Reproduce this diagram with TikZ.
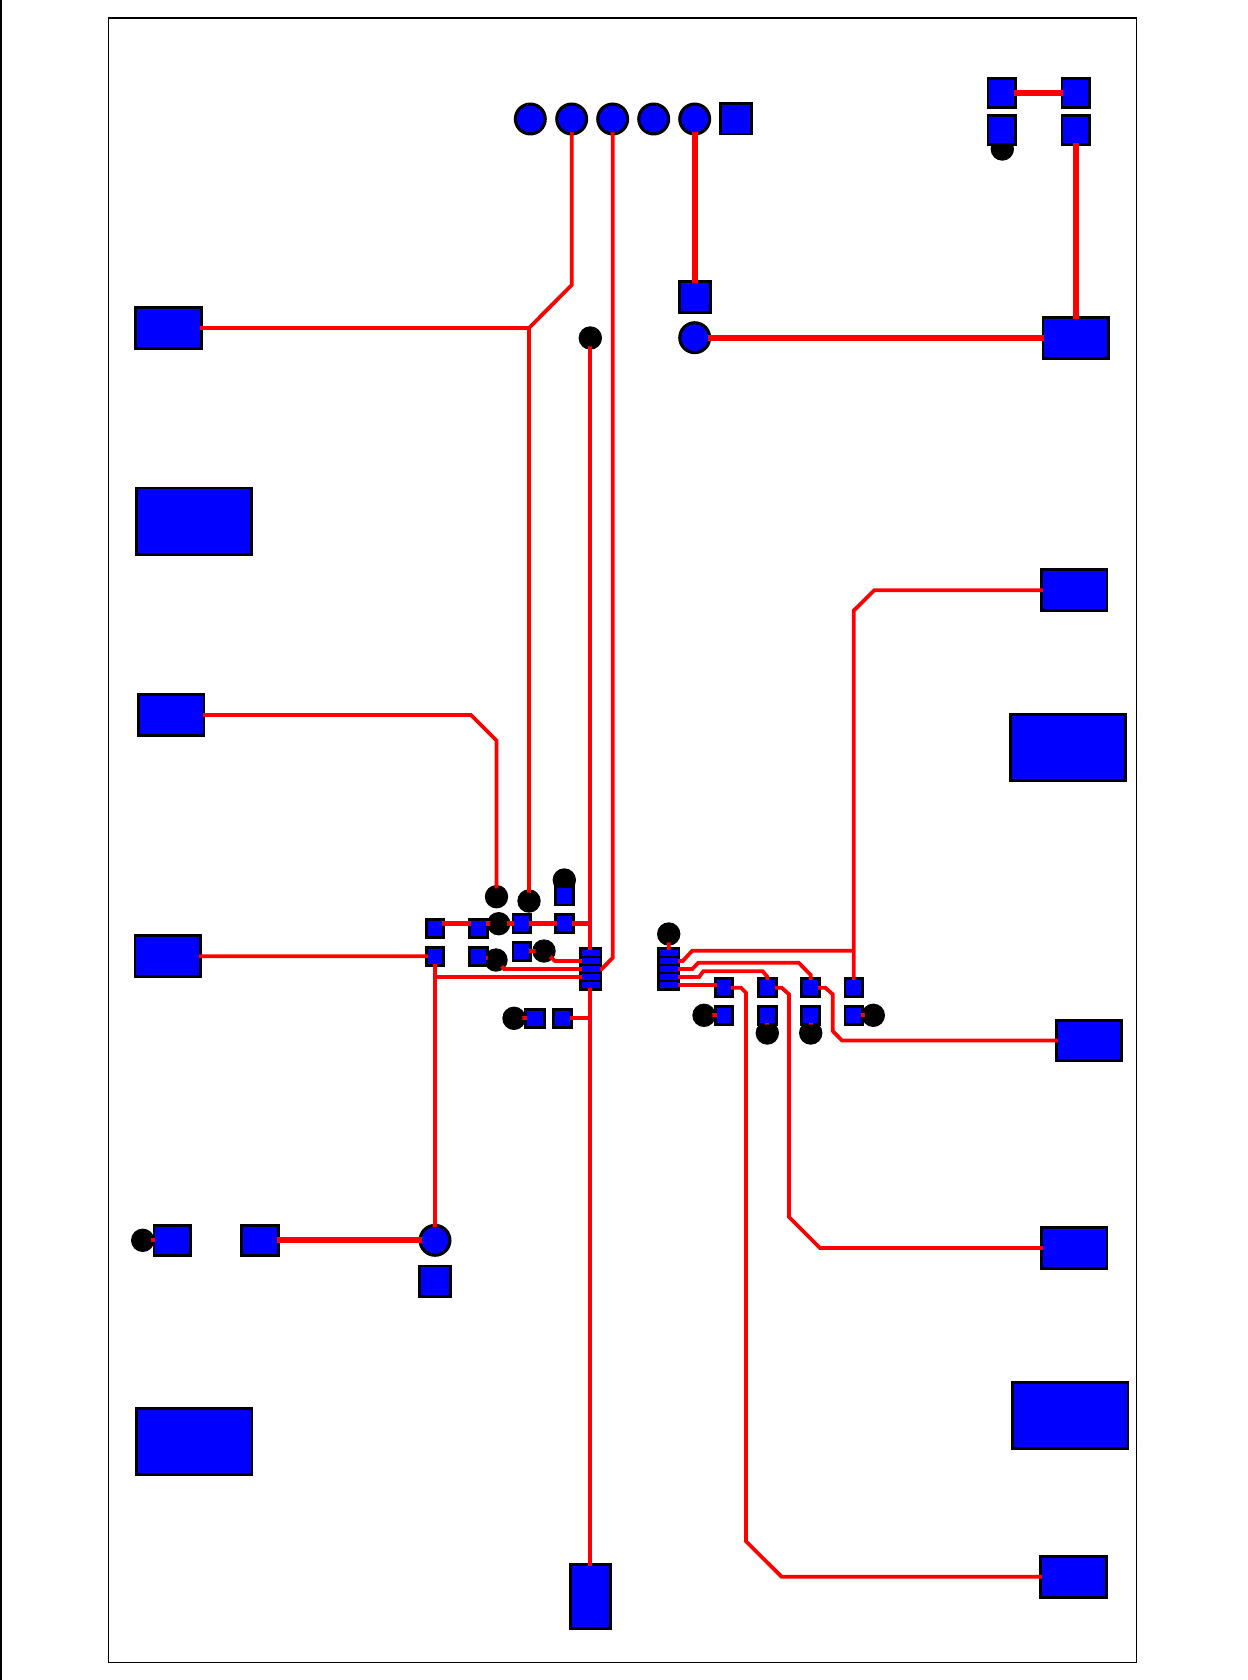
\documentclass[tikz,border=0pt]{standalone}
\usepackage{tikz}
\usepackage{xcolor}
\tikzset{
    pad-base/.style = {rectangle, fill=black, inner sep=0pt, outer sep=0pt},
    pad-top/.style = {rectangle, fill=blue, inner sep=0pt, outer sep=0pt},
    ring-base/.style = {circle, fill=black, inner sep=0pt, outer sep=0pt, minimum size=33pt},
    ring-top/.style = {circle, fill=blue, inner sep=0pt, outer sep=0pt, minimum size=26.6pt},
    via-base/.style = {circle, fill=black, inner sep=0pt, outer sep=0pt, minimum size=23.4pt},
    via-top/.style = {circle, fill=black, inner sep=0pt, outer sep=0pt, minimum size=17pt},
    trace-thin/.style = {draw=red, line width=3.8pt},
    trace-thick/.style = {draw=red, line width=5.8pt},
    board-edge/.style = {draw=black, line width=1.6pt},
}
\newcommand\padlist{%
    sq-hdr/736/118.7/33.6/33.6, sq-top/694.7/296.7/33.6/33.6,
    sw-tl/1001.7/93/30.4/31.6, sw-tr/1075.7/93/30.4/31.6,
    sw-bl/1001.7/130/30.4/31.6, sw-br/1075.7/130/30.4/31.6,
    pwr/1075.8/337.7/68.6/43.6,
    in-a/168.8/328/69/43.6, in-b/171/715/68.8/43.6, in-c/167.8/956.2/68.6/43.8,
    big-a/193.7/521/118.2/69, big-b/194.3/1441.3/118.2/68.4,
    big-c/1067.8/747.3/118.2/68.4, big-d/1070.3/1415.3/118.2/68.4,
    led-a/172.3/1240.3/39.6/33, led-b/259.7/1240.3/39.6/33,
    sq-low/435/1281.3/33.6/33.6,
    out-a/1074/590.2/68.8/43.8, out-b/1089/1040.5/68.4/43.6,
    out-c/1074/1248/68.8/43.6, out-d/1073.8/1576.8/69/43.8,
    bot/590.3/1596.4/43.2/66.6,
    a1/435/928.7/20.4/21, a2/435/956.3/20.4/21,
    b1/478.3/928.7/20.4/21, b2/478.3/956.3/20.4/21,
    c1/521.8/923.5/20.6/21.2, c2/521.8/951.2/20.6/21.2,
    d0/564.5/895.8/20.6/21.2, d1/564.5/923.5/20.6/21.2,
    e1/535.2/1018.3/21.9/20.4, e2/562.7/1018.3/20.9/20.4,
    f1/724/987.7/20.4/21, f2/767.3/987.7/20.4/21,
    f3/810.7/987.7/20.9/21, f4/853.7/987.7/20.4/21,
    g1/724/1015.3/20.4/21, g2/767.3/1015.3/20.4/21,
    g3/810.7/1015.3/20.9/21, g4/853.7/1015.3/20.4/21%
}
\newcommand\ringlist{%
    hdr-1/530.3/119, hdr-2/571.7/119, hdr-3/612.7/119, hdr-4/653.7/119, hdr-5/694.7/119,
    ring-a/694.7/337.7, ring-b/435/1240.3%
}
\newcommand\vialist{%
    v-top/590.3/338, v-sw/1002.3/149, v-led/142.7/1240.3,
    v1/496.5/896.7, v2/529/901, v3/498.7/923.7, v4/496/960, v5/544/951, v6/514/1018.3,
    v7/564.3/880, v8/668.7/934, v9/704/1015.3, v10/767.3/1033, v11/810.7/1033, v12/873.3/1015.3%
}
\begin{document}
\begin{tikzpicture}[x=1pt, y=-1pt]
\useasboundingbox (0,0) rectangle (1247,1680);
\fill[black] (0,0) rectangle (2,1680);
\draw[board-edge] (108.3,18) rectangle (1136.3,1662.3);

\foreach \n/\x/\y in \vialist {\node[via-base] (\n) at (\x,\y) {};}
\foreach \n/\x/\y/\w/\h in \padlist {\node[pad-base, minimum width=\w pt, minimum height=\h pt] (\n) at (\x,\y) {};}
\foreach \n/\x/\y in \ringlist {\node[ring-base] (\n) at (\x,\y) {};}
\node[pad-base, minimum width=23pt, minimum height=43.6pt] (ic-l) at (590.8,969) {};
\node[pad-base, minimum width=23pt, minimum height=43.6pt] (ic-r) at (668.8,969) {};
\foreach \i/\y in {1/952.7, 2/961, 3/969, 4/977, 5/985.2} {
    \coordinate (icl-\i) at (590.8,\y);
    \coordinate (icr-\i) at (668.8,\y);
}
\coordinate (j-a) at (853.7,950.7);
\coordinate (j-b) at (529,328);
\coordinate (j-c) at (435,977);
\coordinate (j-e) at (590.3,1018.3);

\draw[trace-thin] (in-a.center) -- (j-b) -- (571.7,285) -- (hdr-2.center);
\draw[trace-thin] (j-b) -- (v2.center);
\draw[trace-thin] (hdr-3.center) -- (612.7,957.7) -- (601.7,969) -- (icl-3);
\draw[trace-thin] (v-top.center) -- (v-top.center |- icl-1);
\draw[trace-thin] (bot.center |- icl-5) -- (bot.center);
\draw[trace-thin] (in-b.center) -- (471,715) -- (496.5,740.5) -- (v1.center);
\draw[trace-thin] (in-c.center) -- (a2.center) -- (ring-b.center);
\draw[trace-thin] (j-c) -- (icl-4);
\draw[trace-thin] (b2.center) -- (v4.center) -- (504,969) -- (icl-3);
\draw[trace-thin] (c2.center) -- (v5.center) -- (555,961) -- (icl-2);
\draw[trace-thin] (v6.center) -- (e1.center);
\draw[trace-thin] (e2.center) -- (j-e);
\draw[trace-thin] (v-led.center) -- (led-a.center);
\draw[trace-thin] (v8.center) -- (icr-1);
\draw[trace-thin] (out-a.center) -- (874.3,590.2) -- (853.7,610.7) -- (f4.center);
\draw[trace-thin] (icr-2) -- (682.7,961) -- (692.3,950.7) -- (j-a);
\draw[trace-thin] (icr-3) -- (692.3,969) -- (698.3,962.7) -- (798.7,962.7) -- (810.7,975) -- (f3.center);
\draw[trace-thin] (icr-4) -- (699,977) -- (703.3,971.3) -- (762.7,971.3) -- (767.3,976.7) -- (f2.center);
\draw[trace-thin] (icr-5) -- (724,985.2);
\draw[trace-thin] (f1.center) -- (741,987.7) -- (746,992.7) -- (746,1541.3) -- (781.7,1576.8) -- (out-d.center);
\draw[trace-thin] (f2.center) -- (781.7,987.7) -- (789,994.3) -- (789,1217) -- (820,1248) -- (out-c.center);
\draw[trace-thin] (f3.center) -- (825.3,987.7) -- (832.7,994.3) -- (832.7,1031) -- (842,1040.5) -- (out-b.center);
\draw[trace-thin] (v9.center) -- (g1.center);
\draw[trace-thin] (v10.center) -- (g2.center);
\draw[trace-thin] (v11.center) -- (g3.center);
\draw[trace-thin] (v12.center) -- (g4.center);
\draw[trace-thick] (a1.center |- d1.center) -- (d1.center) -- (bot.center |- d1.center);
\draw[trace-thick] (hdr-5.center) -- (sq-top.center);
\draw[trace-thick] (ring-a.center) -- (pwr.center);
\draw[trace-thick] (pwr.center -| sw-br.center) -- (sw-br.center);
\draw[trace-thick] (sw-tl.center) -- (sw-tr.center);
\draw[trace-thick] (led-b.center) -- (ring-b.center);

\foreach \n/\x/\y in \vialist {\node[via-top] (\n-top) at (\n.center) {};}
\foreach \n/\x/\y/\w/\h in \padlist {\node[pad-top, minimum width={\w pt-5.8pt}, minimum height={\h pt-5.8pt}] (\n-top) at (\n.center) {};}
\foreach \n/\x/\y in \ringlist {\node[ring-top] (\n-top) at (\n.center) {};}
\foreach \i in {1,...,5} {
    \node[pad-top, minimum width=18pt, minimum height=5.7pt] (icl-top-\i) at (icl-\i) {};
    \node[pad-top, minimum width=18pt, minimum height=5.7pt] (icr-top-\i) at (icr-\i) {};
}
\end{tikzpicture}
\end{document}
